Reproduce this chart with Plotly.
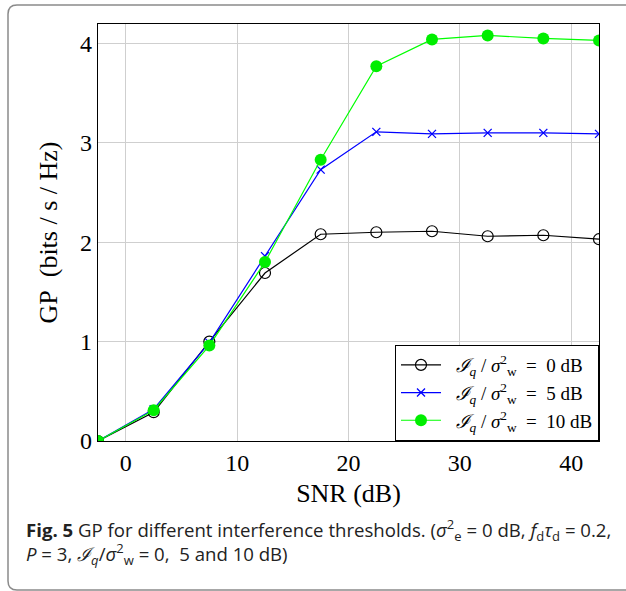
import plotly.graph_objects as go

snr = [-2.5, 2.5, 7.5, 12.5, 17.5, 22.5, 27.5, 32.5, 37.5, 42.5]
gp_0db = [0.0, 0.29, 1.00, 1.69, 2.08, 2.10, 2.11, 2.06, 2.07, 2.03]
gp_5db = [0.0, 0.32, 0.99, 1.86, 2.73, 3.11, 3.09, 3.10, 3.10, 3.09]
gp_10db = [0.0, 0.31, 0.96, 1.80, 2.83, 3.77, 4.04, 4.08, 4.05, 4.03]

names = ["&nbsp;&nbsp;<i>ℐ<sub>q</sub></i> / <i>σ</i><sup>2</sup><sub>w</sub>&nbsp; = &nbsp;0 dB",
         "&nbsp;&nbsp;<i>ℐ<sub>q</sub></i> / <i>σ</i><sup>2</sup><sub>w</sub>&nbsp; = &nbsp;5 dB",
         "&nbsp;&nbsp;<i>ℐ<sub>q</sub></i> / <i>σ</i><sup>2</sup><sub>w</sub>&nbsp; = &nbsp;10 dB"]

x_ticks = [0, 10, 20, 30, 40]
y_ticks = [0, 1, 2, 3, 4]

serif = "Liberation Serif"

fig = go.Figure()
fig.add_trace(go.Scatter(x=snr, y=gp_0db, name=names[0], mode="lines+markers",
                         line=dict(color="black", width=1.2),
                         marker=dict(symbol="circle-open", size=11, color="black", line=dict(width=1.2))))
fig.add_trace(go.Scatter(x=snr, y=gp_5db, name=names[1], mode="lines+markers",
                         line=dict(color="#0000ff", width=1.2),
                         marker=dict(symbol="x-thin-open", size=8, color="#0000ff", line=dict(width=1.3, color="#0000ff"))))
fig.add_trace(go.Scatter(x=snr, y=gp_10db, name=names[2], mode="lines+markers",
                         line=dict(color="#00ff00", width=1.2),
                         marker=dict(symbol="circle", size=12, color="#00ee00")))

W, H = 626, 591
L, R, T, B = 98, 27, 24, 150
pw, ph = W - L - R, H - T - B

def px(xp):
    return (xp - L) / pw

def py(yp):
    return (H - B - yp) / ph

# outer rounded frame
x0, x1, y0, y1 = px(8), px(660), py(5), py(590)
rx, ry = 9 / pw, 9 / ph
path = (f"M {x0+rx} {y0} L {x1} {y0} M {x0+rx} {y1} L {x1} {y1} "
        f"M {x0} {y0-ry} L {x0} {y1+ry} "
        f"M {x0} {y0-ry} Q {x0} {y0} {x0+rx} {y0} "
        f"M {x0} {y1+ry} Q {x0} {y1} {x0+rx} {y1}")

fig.update_layout(
    width=W, height=H,
    margin=dict(l=L, r=R, t=T, b=B),
    paper_bgcolor="white", plot_bgcolor="white",
    font=dict(family=serif, color="black"),
    shapes=[dict(type="path", xref="paper", yref="paper", path=path,
                 line=dict(color="#8a8a8a", width=1.5))],
    legend=dict(x=1, y=0, xanchor="right", yanchor="bottom",
                bgcolor="white", bordercolor="black", borderwidth=1,
                font=dict(family=serif, size=19), tracegroupgap=0,
                itemwidth=40),
    showlegend=True,
    annotations=[dict(
        xref="paper", yref="paper", x=px(24), y=py(513), xanchor="left", yanchor="top",
        align="left", showarrow=False,
        font=dict(family="Open Sans", size=18.6, color="#222"),
        text=("<b>Fig. 5</b> GP for different interference thresholds. (<i>σ</i><sup>2</sup><sub>e</sub> = 0 dB, "
              "<i>f</i><sub>d</sub><i>τ</i><sub>d</sub> = 0.2,<br>"
              "<i>P</i> = 3, <i>ℐ<sub>q</sub></i>/<i>σ</i><sup>2</sup><sub>w</sub> = 0,  5 and 10 dB)"))],
)

fig.update_xaxes(range=[-2.5, 42.5], tickvals=x_ticks, ticktext=[str(v) for v in x_ticks],
                 showgrid=True, gridcolor="#cfcfcf", gridwidth=1,
                 showline=True, linecolor="black", linewidth=1.2, mirror=True,
                 zeroline=False, ticks="", tickfont=dict(size=24, family=serif),
                 title=dict(text="SNR (dB)", font=dict(size=26, family=serif), standoff=8))
fig.update_yaxes(range=[0, 4.195], tickvals=y_ticks, ticktext=[str(v) for v in y_ticks],
                 showgrid=True, gridcolor="#cfcfcf", gridwidth=1,
                 showline=True, linecolor="black", linewidth=1.2, mirror=True,
                 zeroline=False, ticks="", tickfont=dict(size=24, family=serif),
                 title=dict(text="GP&nbsp; (bits / s / Hz)", font=dict(size=26, family=serif), standoff=14))

fig.write_html("out.html")
